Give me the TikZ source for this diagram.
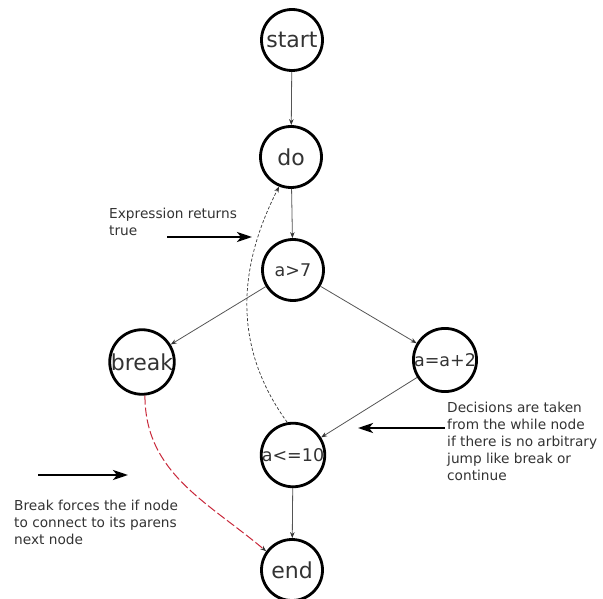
\documentclass[tikz,border=0pt]{standalone}
\usepackage{fontspec}
\setmainfont{DejaVu Sans}
\usetikzlibrary{arrows.meta}
\definecolor{txtgray}{HTML}{333333}
\definecolor{lnkgray}{HTML}{555555}
\definecolor{brkred}{HTML}{C8283A}
\tikzset{
  state/.style={circle, draw=black, line width=2.8pt, minimum size=61pt, inner sep=0pt,
    text=txtgray, font=\fontsize{22}{24}\selectfont},
  expr/.style={state, font=\fontsize{17.5}{20}\selectfont},
  flow/.style={draw=lnkgray, line width=0.8pt, -{Stealth[length=6pt,width=4.5pt,color=black!80]}},
  note/.style={anchor=base west, align=left, text=txtgray, inner sep=0pt,
    font=\fontsize{13.7}{16.8}\selectfont},
  pointer/.style={line width=2.4pt, -{Stealth[length=15pt,width=10pt,inset=4pt]}},
}
\begin{document}
\begin{tikzpicture}[x=1pt,y=1pt]
    \useasboundingbox (0,0) rectangle (603,-599);

    % 节点
    \node[state] (start) at (292,-40) {start};
    \node[state] (do) at (291,-157) {do};
    \node[expr] (cmp) at (293,-270) {a>7};
    \node[state] (brk) at (142,-362) {break};
    \node[expr] (inc) at (445,-360) {a=a+2};
    \node[expr] (cond) at (293,-455) {a<=10};
    \node[state] (stop) at (292,-570) {end};

    % 边
    \draw[flow] (start) -- (do);
    \draw[flow] (do) -- (cmp);
    \draw[flow] (cmp) -- (brk);
    \draw[flow] (cmp) -- (inc);
    \draw[flow] (inc) -- (cond);
    \draw[flow] (cond) -- (stop);

    % 回到 do 的虚线
    \draw[flow, draw=black!80, line width=0.7pt, dash pattern=on 3pt off 2pt]
        (cond.100) to[out=126, in=243] (do.248);

    % break 直接跳到 end
    \draw[flow, draw=brkred, line width=1pt, dash pattern=on 9pt off 3pt]
        (brk.-85) to[out=-90, in=140] (stop.144);

    % 注释 (基线取最后一行)
    \coordinate (p1) at (167,-237);
    \coordinate (q1) at (252,-237);
    \draw[pointer] (p1) -- (q1);
    \node[note] (n1) at (109,-235.5) {Expression returns\\true};

    \coordinate (p2) at (445,-428);
    \coordinate (q2) at (358,-428);
    \draw[pointer] (p2) -- (q2);
    \node[note] (n2) at (447,-480) {Decisions are taken\\from the while node\\if there is no arbitrary\\jump like break or\\continue};

    \coordinate (p3) at (38,-475);
    \coordinate (q3) at (128,-475);
    \draw[pointer] (p3) -- (q3);
    \node[note] (n3) at (14,-544) {Break forces the if node\\to connect to its parens\\next node};
\end{tikzpicture}
\end{document}
